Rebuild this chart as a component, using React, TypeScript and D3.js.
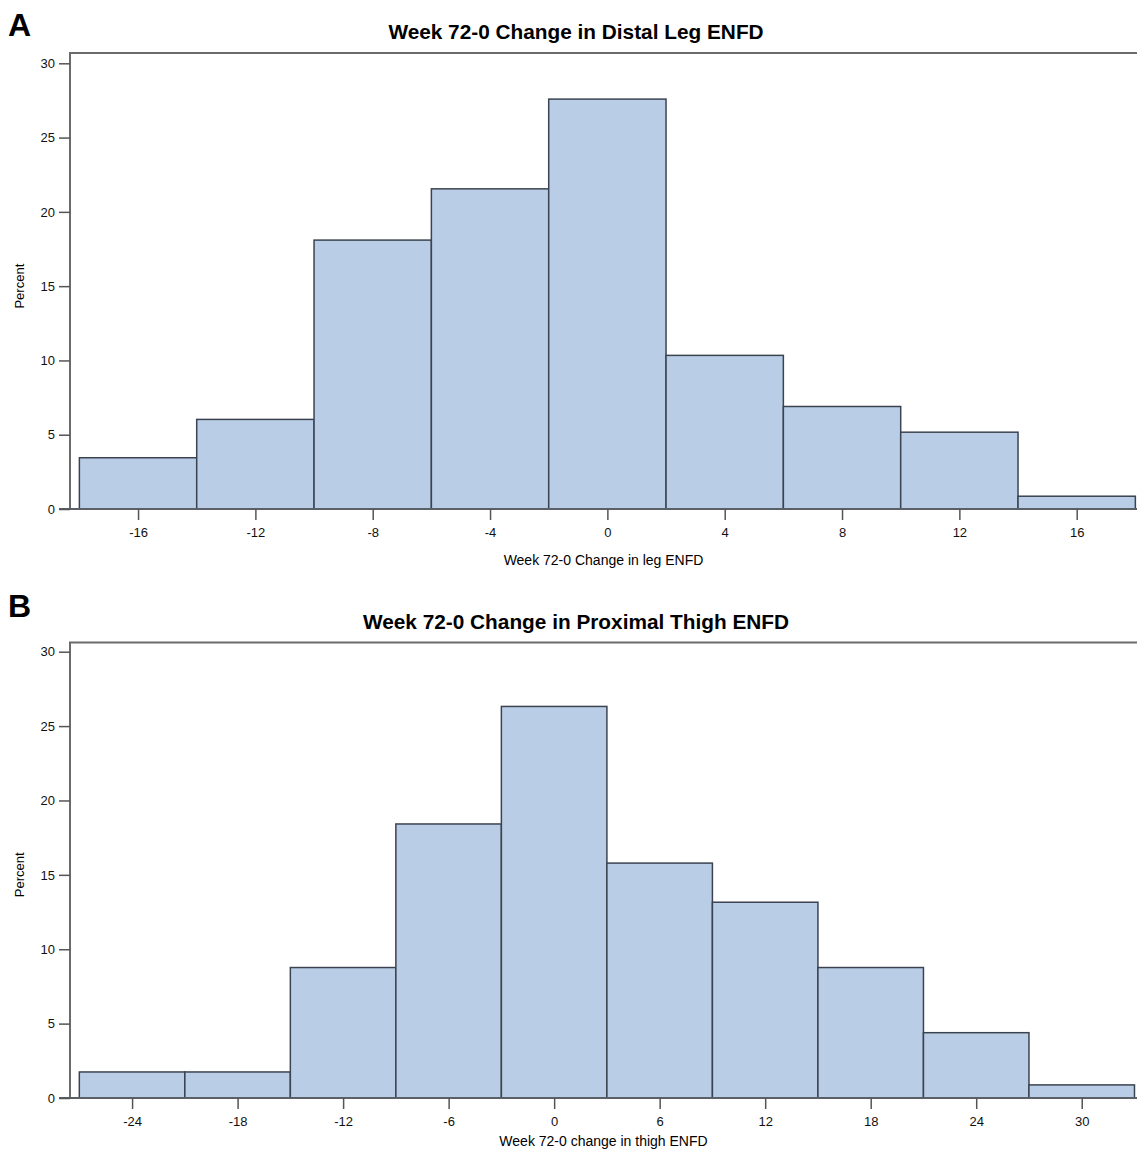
import React, { useEffect, useRef } from "react";
import * as d3 from "d3";

// panel A: distal leg, bins of width 4
const legBinStarts = [-18, -14, -10, -6, -2, 2, 6, 10, 14];
const legPercent = [3.45, 6.03, 18.1, 21.55, 27.59, 10.34, 6.9, 5.17, 0.86];
const legTicks = [-16, -12, -8, -4, 0, 4, 8, 12, 16];

// panel B: proximal thigh, bins of width 6
const thighBinStarts = [-27, -21, -15, -9, -3, 3, 9, 15, 21, 27];
const thighPercent = [1.75, 1.75, 8.77, 18.42, 26.32, 15.79, 13.16, 8.77, 4.39, 0.88];
const thighTicks = [-24, -18, -12, -6, 0, 6, 12, 18, 24, 30];

const yTicks = [0, 5, 10, 15, 20, 25, 30];

const FONT = "'Liberation Sans', Arial, sans-serif";

type Panel = {
  letter: string;
  title: string;
  xlabel: string;
  starts: number[];
  values: number[];
  width: number;
  ticks: number[];
  xDomain: [number, number];
  top: number; // frame top
  y0: number; // pixel of 0
  y30: number; // pixel of 30
};

export default function App() {
  const ref = useRef<SVGSVGElement>(null);

  useEffect(() => {
    const svg = d3.select(ref.current);
    svg.selectAll("*").remove();

    const left = 70;
    const right = 1138;
    const plotMid = (left + 1137) / 2;

    const panels: Panel[] = [
      {
        letter: "A",
        title: "Week 72-0 Change in Distal Leg ENFD",
        xlabel: "Week 72-0 Change in leg ENFD",
        starts: legBinStarts,
        values: legPercent,
        width: 4,
        ticks: legTicks,
        xDomain: [-18.32, 18.09],
        top: 53,
        y0: 509,
        y30: 63.3,
      },
      {
        letter: "B",
        title: "Week 72-0 Change in Proximal Thigh ENFD",
        xlabel: "Week 72-0 change in thigh ENFD",
        starts: thighBinStarts,
        values: thighPercent,
        width: 6,
        ticks: thighTicks,
        xDomain: [-27.53, 33.2],
        top: 642.5,
        y0: 1098,
        y30: 651.7,
      },
    ];

    panels.forEach((p, pi) => {
      const g = svg.append("g");
      const x = d3.scaleLinear().domain(p.xDomain).range([left, right]);
      const y = d3.scaleLinear().domain([0, 30]).range([p.y0, p.y30]);

      // panel letter
      g.append("text")
        .attr("x", 8)
        .attr("y", pi === 0 ? 36 : 617)
        .attr("font-family", FONT)
        .attr("font-weight", "bold")
        .attr("font-size", 32)
        .text(p.letter);

      // title
      g.append("text")
        .attr("x", 576)
        .attr("y", p.top - 14)
        .attr("text-anchor", "middle")
        .attr("font-family", FONT)
        .attr("font-weight", "bold")
        .attr("font-size", 20.8)
        .text(p.title);

      // bars
      g.selectAll("rect.bar")
        .data(p.values)
        .enter()
        .append("rect")
        .attr("class", "bar")
        .attr("x", (d, i) => x(p.starts[i]))
        .attr("y", (d) => y(d))
        .attr("width", (d, i) => x(p.starts[i] + p.width) - x(p.starts[i]))
        .attr("height", (d) => y(0) - y(d))
        .style("fill", "#b9cee6")
        .style("stroke", "#3c4350")
        .style("stroke-width", 1.5);

      // frame top + left axis line
      g.append("path")
        .attr("d", `M${left},${y(0)}V${p.top}H${right}`)
        .attr("fill", "none")
        .attr("stroke", "#6b6b6b")
        .attr("stroke-width", 2);
      // bottom axis line
      g.append("line")
        .attr("x1", left - 11)
        .attr("x2", right)
        .attr("y1", y(0))
        .attr("y2", y(0))
        .attr("stroke", "#5a5f68")
        .attr("stroke-width", 2);

      const fmt = (d: d3.NumberValue) => String(d);

      // y axis
      const ya = g
        .append("g")
        .attr("transform", `translate(${left},0)`)
        .call(d3.axisLeft(y).tickValues(yTicks).tickFormat(fmt).tickSize(11).tickPadding(4));
      ya.select(".domain").remove();
      ya.selectAll("line").attr("stroke", "#555").attr("stroke-width", 1.5);
      ya.selectAll("text")
        .attr("font-family", FONT)
        .attr("font-size", 13)
        .attr("fill", "#111");

      // x axis
      const xa = g
        .append("g")
        .attr("transform", `translate(0,${y(0)})`)
        .call(d3.axisBottom(x).tickValues(p.ticks).tickFormat(fmt).tickSize(11).tickPadding(8));
      xa.select(".domain").remove();
      xa.selectAll("line").attr("stroke", "#555").attr("stroke-width", 1.5);
      xa.selectAll("text")
        .attr("font-family", FONT)
        .attr("font-size", 13)
        .attr("fill", "#111");

      // x axis label
      g.append("text")
        .attr("x", plotMid)
        .attr("y", pi === 0 ? 565 : 1146)
        .attr("text-anchor", "middle")
        .attr("font-family", FONT)
        .attr("font-size", 14)
        .text(p.xlabel);

      // y axis label
      const yMid = (p.y0 + p.y30) / 2;
      g.append("text")
        .attr("transform", `translate(24,${yMid}) rotate(-90)`)
        .attr("text-anchor", "middle")
        .attr("font-family", FONT)
        .attr("font-size", 13)
        .text("Percent");
    });
  }, []);

  return (
    <svg
      ref={ref}
      width={1137}
      height={1151}
      style={{ position: "absolute", left: 0, top: 0, background: "#fff" }}
    />
  );
}
